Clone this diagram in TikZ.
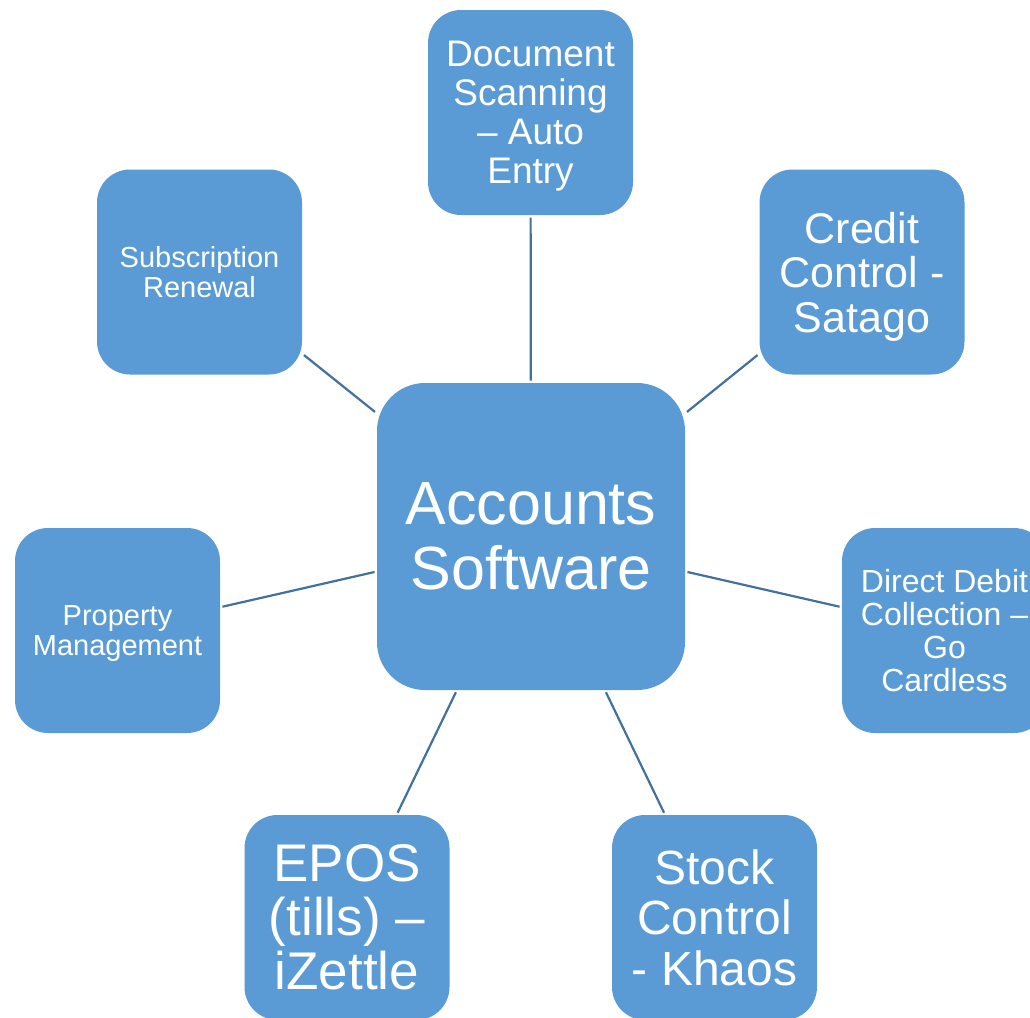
\documentclass[tikz,border=0pt]{standalone}
\usepackage{fontspec}
\setmainfont{Liberation Sans}
\definecolor{boxblue}{HTML}{5B9BD5}
\definecolor{linkblue}{HTML}{41719C}
\tikzset{
  sat/.style={fill=boxblue, text=white, rounded corners=33pt, minimum width=205pt, minimum height=205pt, inner sep=0pt, outer sep=0pt, align=center},
  hub/.style={sat, rounded corners=48pt, minimum width=308pt, minimum height=307pt},
  link/.style={draw=linkblue, line width=2.2pt, shorten <=2.5pt, shorten >=2.5pt}
}
\newcommand{\fsz}[2]{\fontsize{#1}{#2}\selectfont}
\begin{document}
\begin{tikzpicture}[x=1pt,y=-1pt]
\useasboundingbox (0,0) rectangle (1030,1017);
\node[hub, font=\fsz{61}{65}] (acc) at (531,536.5) {Accounts\\Software};
\node[sat, font=\fsz{37}{39}] (doc) at (530.5,112.5) {Document\\Scanning\\– Auto\\\smash{Entry}};
\node[sat, font=\fsz{43}{44.5}] (cred) at (862,272) {Credit\\Control -\\\smash{Satago}};
\node[sat, font=\fsz{29}{30.5}] (subs) at (199.5,272) {Subscription\\Renewal};
\node[sat, font=\fsz{29}{30.5}] (prop) at (117.5,630.5) {Property\\\smash{Management}};
\node[sat, font=\fsz{32}{33}] (dd) at (944.5,630.5) {Direct Debit\\Collection –\\Go\\Cardless};
\node[sat, font=\fsz{53}{54}] (epos) at (347,917.5) {EPOS\\(tills) –\\iZettle};
\node[sat, font=\fsz{48}{50.5}] (stock) at (714.5,917.5) {Stock\\Control\\- Khaos};
\draw[link] (acc) -- (doc);
\draw[link] (acc) -- (cred);
\draw[link] (acc) -- (subs);
\draw[link] (acc) -- (prop);
\draw[link] (acc) -- (dd);
\draw[link] (acc) -- (epos);
\draw[link] (acc) -- (stock);
\end{tikzpicture}
\end{document}
